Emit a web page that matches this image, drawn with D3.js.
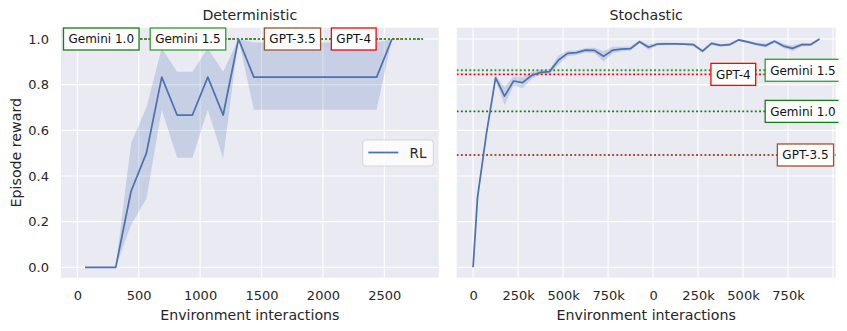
<!DOCTYPE html>
<html>
<head>
<meta charset="utf-8">
<script src="https://cdn.jsdelivr.net/npm/d3@7"></script>
<style>
  html, body { margin: 0; padding: 0; background: #fff; }
  svg { display: block; font-family: "DejaVu Sans", sans-serif; }
</style>
</head>
<body>
<svg id="chart" width="847" height="331"></svg>
<script>
// ---------------- DATA ----------------
// Deterministic panel
const detX  = [62.5,187.5,312.5,437.5,562.5,687.5,812.5,937.5,1062.5,1187.5,1312.5,1437.5,1562.5,1687.5,1812.5,1937.5,2062.5,2187.5,2312.5,2437.5,2562.5];
const detY  = [0,0,0,0.333,0.5,0.833,0.667,0.667,0.833,0.667,1.0,0.833,0.833,0.833,0.833,0.833,0.833,0.833,0.833,0.833,1.0];
const detLo = [0,0,0,0.185,0.30,0.69,0.48,0.48,0.69,0.477,1.0,0.69,0.69,0.69,0.69,0.69,0.69,0.69,0.69,0.69,1.0];
const detHi = [0,0,0,0.543,0.70,0.96,0.857,0.857,0.96,0.857,1.0,0.985,0.985,0.985,0.985,0.985,0.985,0.985,0.985,0.985,1.0];
const detTicks = [0,500,1000,1500,2000,2500];

// Stochastic panel (x in thousands of interactions)
const stoX  = [0,25,75,125,175,225,275,325,375,425,475,525,575,625,675,725,775,825,875,925,975,1025,1075,1125,1175,1225,1275,1325,1375,1425,1475,1525,1575,1625,1675,1725,1775,1825,1875,1925];
const stoY  = [0,0.309,0.59,0.830,0.750,0.816,0.809,0.840,0.854,0.857,0.908,0.937,0.940,0.951,0.950,0.924,0.951,0.956,0.958,0.988,0.964,0.978,0.979,0.979,0.978,0.975,0.947,0.981,0.972,0.975,0.996,0.987,0.978,0.971,0.990,0.969,0.959,0.975,0.975,1.0];
const stoCI = [0,0.005,0.008,0.01,0.04,0.02,0.025,0.015,0.01,0.01,0.02,0.012,0.01,0.01,0.012,0.022,0.015,0.01,0.01,0.006,0.012,0.006,0.006,0.005,0.005,0.006,0.008,0.006,0.006,0.006,0.005,0.005,0.006,0.008,0.006,0.01,0.012,0.008,0.006,0.003];
const stoTicks = [0,250,500,750,1000,1250,1500,1750,2000];
const stoTickLabels = ["0","250k","500k","750k","0","250k","500k","750k",""];

const yTicks = [0,0.2,0.4,0.6,0.8,1.0];

// Baselines (LLM agents)
const baseNames   = ["GPT-3.5","GPT-4","Gemini 1.0","Gemini 1.5"];
const baseColors  = ["#a0522d","#ff0000","#128012","#2ca02c"];
const detBase     = [1.0,1.0,1.0,1.0];
const detLabelX   = [1752,2251,195,901];
const stoBase     = [0.492,0.845,0.683,0.863];
const stoLabelX   = [1847,1446,1833,1833];

// ---------------- DRAW ----------------
const svg = d3.select("#chart");
const defs = svg.append("defs");
defs.append("clipPath").attr("id","figclip")
  .append("rect").attr("x",0).attr("y",0).attr("width",838.5).attr("height",331);
const root = svg.append("g").attr("clip-path","url(#figclip)");

const yTop = 27.7, yBottom = 277.7;
const y = d3.scaleLinear().domain([-0.0455,1.0495]).range([yBottom, yTop]);

const lineColor = "#4C72B0";

function panel(opts) {
  const x = opts.x;
  const g = root.append("g");
  const [x0, x1] = x.range();
  g.append("rect").attr("x",x0).attr("y",yTop).attr("width",x1-x0).attr("height",yBottom-yTop).attr("fill","#EAEAF2");
  // grid
  g.selectAll(".vg").data(opts.ticks.filter(t => x(t) >= x0 && x(t) <= x1)).enter().append("line")
    .attr("x1",d=>x(d)).attr("x2",d=>x(d)).attr("y1",yTop).attr("y2",yBottom)
    .attr("stroke","#fff").attr("stroke-width",1.1);
  g.selectAll(".hg").data(yTicks).enter().append("line")
    .attr("x1",x0).attr("x2",x1).attr("y1",d=>y(d)).attr("y2",d=>y(d))
    .attr("stroke","#fff").attr("stroke-width",1.1);

  // x axis
  const ax = d3.axisBottom(x).tickValues(opts.ticks).tickSize(0).tickPadding(13)
    .tickFormat(opts.tickFormat);
  const axg = g.append("g").attr("transform",`translate(0,${yBottom})`).call(ax);
  axg.select(".domain").remove();
  axg.selectAll("text").attr("font-size","13px").attr("fill","#262626").attr("font-family","DejaVu Sans");

  if (opts.yLabels) {
    const ay = d3.axisLeft(y).tickValues(yTicks).tickSize(0).tickPadding(12).tickFormat(d3.format(".1f"));
    const ayg = g.append("g").attr("transform",`translate(${x0},0)`).call(ay);
    ayg.select(".domain").remove();
    ayg.selectAll("text").attr("font-size","13px").attr("fill","#262626").attr("font-family","DejaVu Sans");
  }

  // titles
  g.append("text").attr("x",(x0+x1)/2).attr("y",19.5).attr("text-anchor","middle")
    .attr("font-size","14.2px").attr("fill","#262626").text(opts.title);
  g.append("text").attr("x",(x0+x1)/2).attr("y",319.5).attr("text-anchor","middle")
    .attr("font-size","14.2px").attr("fill","#262626").text("Environment interactions");

  const clipId = "clip" + opts.id;
  defs.append("clipPath").attr("id",clipId)
    .append("rect").attr("x",x0).attr("y",yTop).attr("width",x1-x0).attr("height",yBottom-yTop);
  const pg = g.append("g").attr("clip-path",`url(#${clipId})`);

  // band
  const pts = opts.xs.map((v,i)=>({x:v,y:opts.ys[i],lo:opts.lo[i],hi:opts.hi[i]}));
  pg.append("path").datum(pts)
    .attr("d", d3.area().x(d=>x(d.x)).y0(d=>y(d.lo)).y1(d=>y(d.hi)))
    .attr("fill",lineColor).attr("fill-opacity",0.22);

  // baselines
  opts.base.forEach((b,i) => {
    pg.append("line")
      .attr("x1", opts.hx0 !== undefined ? x(opts.hx0) : x0)
      .attr("x2", opts.hx1 !== undefined ? x(opts.hx1) : x1)
      .attr("y1", y(b)).attr("y2", y(b))
      .attr("stroke", baseColors[i]).attr("stroke-width",1.9)
      .attr("stroke-dasharray","1.9,2.3");
  });

  // line
  pg.append("path").datum(pts)
    .attr("d", d3.line().x(d=>x(d.x)).y(d=>y(d.y)))
    .attr("fill","none").attr("stroke",lineColor).attr("stroke-width",1.75)
    .attr("stroke-linejoin","round");

  // labels
  opts.base.forEach((b,i) => {
    const lg = g.append("g");
    const t = lg.append("text").attr("x", x(opts.labelX[i])).attr("y", y(b))
      .attr("text-anchor","middle").attr("dy","0.36em")
      .attr("font-size","12px").attr("fill","#111").text(baseNames[i]);
    const bb = t.node().getBBox();
    lg.insert("rect","text")
      .attr("x", bb.x - 5).attr("y", y(b) - 11)
      .attr("width", bb.width + 10).attr("height", 22)
      .attr("fill","#fff").attr("stroke", baseColors[i]).attr("stroke-width",1.3);
  });
  return g;
}

const xDet = d3.scaleLinear().domain([-133, 2943]).range([61, 438.7]);
panel({
  id:"det", x:xDet, ticks:detTicks, tickFormat:d3.format("d"), yLabels:true,
  title:"Deterministic", xs:detX, ys:detY, lo:detLo, hi:detHi,
  base:detBase, labelX:detLabelX, hx0:0, hx1:2812
});

const xSto = d3.scaleLinear().domain([-91, 2015]).range([456.7, 835.7]);
panel({
  id:"sto", x:xSto, ticks:stoTicks, tickFormat:(d,i)=>stoTickLabels[i], yLabels:false,
  title:"Stochastic", xs:stoX, ys:stoY,
  lo:stoY.map((v,i)=>v-stoCI[i]), hi:stoY.map((v,i)=>v+stoCI[i]),
  base:stoBase, labelX:stoLabelX
});

// y label
root.append("text").attr("transform","translate(20.5,152.7) rotate(-90)")
  .attr("text-anchor","middle").attr("font-size","14.2px").attr("fill","#262626").text("Episode reward");

// legend
const leg = root.append("g");
leg.append("rect").attr("x",362.7).attr("y",140).attr("width",70.6).attr("height",26).attr("rx",3)
  .attr("fill","#fff").attr("fill-opacity",0.8).attr("stroke","#d6d6d6").attr("stroke-width",1);
leg.append("line").attr("x1",368.3).attr("x2",398.3).attr("y1",152.5).attr("y2",152.5)
  .attr("stroke",lineColor).attr("stroke-width",1.75);
leg.append("text").attr("x",409.5).attr("y",157.5).attr("font-size","13.5px").attr("fill","#262626").text("RL");
</script>
</body>
</html>
